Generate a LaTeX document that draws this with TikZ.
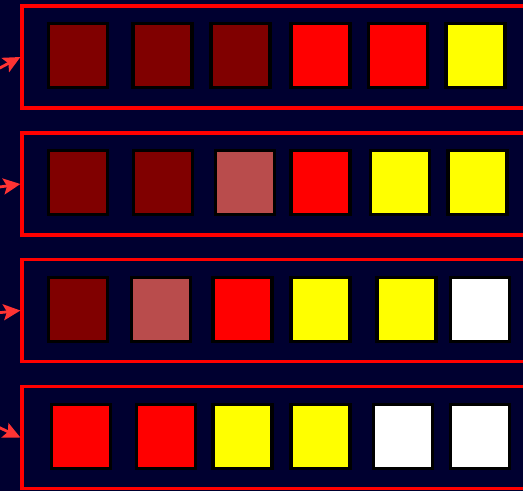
\documentclass[tikz,border=0pt]{standalone}
\usepackage{tikz}
\usetikzlibrary{arrows.meta}
\definecolor{bgnavy}{RGB}{0,0,48}
\definecolor{darkcell}{RGB}{128,0,0}
\definecolor{palecell}{RGB}{185,76,76}
\definecolor{hotcell}{RGB}{255,0,0}
\definecolor{warmcell}{RGB}{255,255,0}
\definecolor{arrowred}{RGB}{255,51,51}
\definecolor{framered}{RGB}{255,0,0}

\begin{document}
\begin{tikzpicture}[x=0.02cm, y=-0.02cm,
    rowbox/.style={draw=framered, line width=1.9pt, minimum width=10.36cm, minimum height=2.04cm, inner sep=0pt},
    cell/.style={draw=black, line width=1.9pt, minimum width=1.18cm, minimum height=1.28cm, inner sep=0pt},
    feed/.style={draw=arrowred, line width=1.6pt, -{Stealth[length=0.34cm,width=0.32cm,inset=0.07cm]}}]

    \fill[bgnavy] (0,0) rectangle (523,491);
    \useasboundingbox (0,0) rectangle (523,491);
    \clip (0,0) rectangle (523,491);

    % the four rows
    \node[rowbox] (row1) at (281,57) {};
    \node[rowbox] (row2) at (281,184) {};
    \node[rowbox] (row3) at (281,310.5) {};
    \node[rowbox] (row4) at (281,437.5) {};

    % row 1
    \node[cell, fill=darkcell] (a1) at (78,55.5) {};
    \node[cell, fill=darkcell] (a2) at (162.5,55.5) {};
    \node[cell, fill=darkcell] (a3) at (240.5,55.5) {};
    \node[cell, fill=hotcell] (a4) at (320.5,55.5) {};
    \node[cell, fill=hotcell] (a5) at (398,55.5) {};
    \node[cell, fill=warmcell] (a6) at (475.5,55.5) {};

    % row 2
    \node[cell, fill=darkcell] (b1) at (78,182.5) {};
    \node[cell, fill=darkcell] (b2) at (163,182.5) {};
    \node[cell, fill=palecell] (b3) at (245,182.5) {};
    \node[cell, fill=hotcell] (b4) at (320.5,182.5) {};
    \node[cell, fill=warmcell] (b5) at (400,182.5) {};
    \node[cell, fill=warmcell] (b6) at (477.5,182.5) {};

    % row 3
    \node[cell, fill=darkcell] (c1) at (78,309.5) {};
    \node[cell, fill=palecell] (c2) at (161,309.5) {};
    \node[cell, fill=hotcell] (c3) at (242.5,309.5) {};
    \node[cell, fill=warmcell] (c4) at (320.5,309.5) {};
    \node[cell, fill=warmcell] (c5) at (406.5,309.5) {};
    \node[cell, fill=white] (c6) at (480,309.5) {};

    % row 4
    \node[cell, fill=hotcell] (d1) at (81,436.5) {};
    \node[cell, fill=hotcell] (d2) at (166,436.5) {};
    \node[cell, fill=warmcell] (d3) at (242.5,436.5) {};
    \node[cell, fill=warmcell] (d4) at (320.5,436.5) {};
    \node[cell, fill=white] (d5) at (403,436.5) {};
    \node[cell, fill=white] (d6) at (480,436.5) {};

    % incoming arrows
    \coordinate (in1) at (-4,70);
    \coordinate (in2) at (-4,187.5);
    \coordinate (in3) at (-4,313);
    \coordinate (in4) at (-4,426);
    \draw[feed] (in1) -- (row1.west);
    \draw[feed] (in2) -- (row2.west);
    \draw[feed] (in3) -- (row3.west);
    \draw[feed] (in4) -- (row4.west);
\end{tikzpicture}
\end{document}
